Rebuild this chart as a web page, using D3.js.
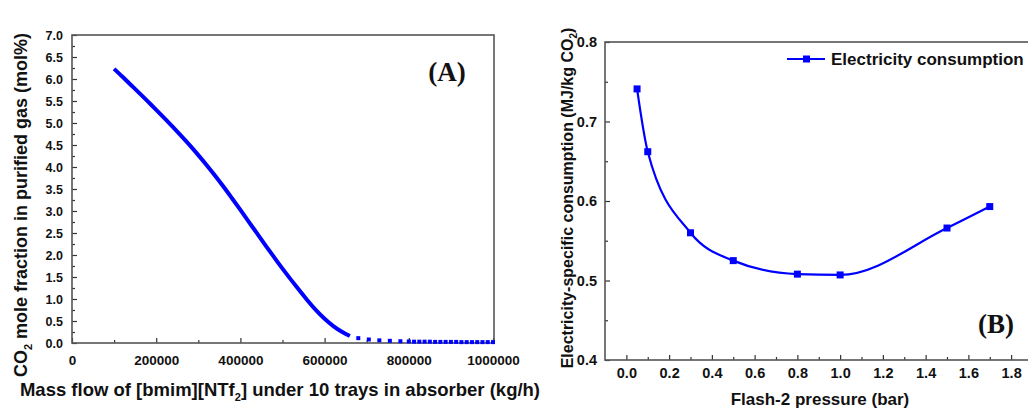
<!DOCTYPE html>
<html>
<head>
<meta charset="utf-8">
<script src="https://cdn.jsdelivr.net/npm/d3@7"></script>
<style>
  body { margin: 0; background: #fff; }
  text { font-family: Arial, "Liberation Sans", sans-serif; font-weight: bold; fill: #111; }
  .tag { font-family: "Liberation Serif", "Times New Roman", serif; font-weight: bold; }
  .domain { display: none; }
  .tick line { stroke: #333; stroke-width: 1.2; }
</style>
</head>
<body>
<div id="container"></div>
<script>
/* DATA */
// (A) CO2 in purified gas vs IL mass flow
const massFlow = [100000, 120000, 140000, 160000, 180000, 200000, 220000, 240000, 260000, 280000,
  300000, 320000, 340000, 360000, 380000, 400000, 420000, 440000, 460000, 480000,
  500000, 520000, 540000, 560000, 580000, 600000, 620000, 640000, 660000,
  680000, 705000, 730000, 755000, 780000, 800000, 812500, 825000, 837500, 850000,
  862500, 875000, 887500, 900000, 912500, 925000, 937500, 950000, 962500, 975000, 987500, 1000000];
const co2Frac = [6.23, 6.05, 5.865, 5.68, 5.49, 5.30, 5.105, 4.905, 4.70, 4.49,
  4.27, 4.04, 3.80, 3.55, 3.29, 3.025, 2.755, 2.485, 2.215, 1.95,
  1.69, 1.44, 1.20, 0.96, 0.74, 0.55, 0.39, 0.26, 0.16,
  0.11, 0.08, 0.06, 0.05, 0.04, 0.035, 0.03, 0.03, 0.03, 0.03,
  0.025, 0.025, 0.025, 0.025, 0.025, 0.02, 0.02, 0.02, 0.02, 0.02, 0.02, 0.02];
const solidUntil = 660000; // beyond this the series shows as separate squares

// (B) electricity consumption vs flash-2 pressure
const flashP = [0.05, 0.1, 0.3, 0.5, 0.8, 1.0, 1.5, 1.7];
const elecCons = [0.741, 0.662, 0.560, 0.525, 0.508, 0.507, 0.566, 0.593];
const seriesB = "Electricity consumption";

const ticksAx = [0, 200000, 400000, 600000, 800000, 1000000];
const ticksAy = [0, 0.5, 1, 1.5, 2, 2.5, 3, 3.5, 4, 4.5, 5, 5.5, 6, 6.5, 7];
const ticksBx = [0, 0.2, 0.4, 0.6, 0.8, 1.0, 1.2, 1.4, 1.6, 1.8];
const ticksBy = [0.4, 0.5, 0.6, 0.7, 0.8];

/* CANVAS */
const width = 1028, height = 410;
const svg = d3.select("#container").append("svg")
  .attr("width", width).attr("height", height);

const blue = "#0000ff";

/* ---------- PANEL A ---------- */
const xA = d3.scaleLinear().domain([0, 1000000]).range([72, 493]);
const yA = d3.scaleLinear().domain([0, 7]).range([343, 35]);

// minor ticks
svg.append("g").attr("transform", `translate(0,${yA(0)})`)
  .call(d3.axisBottom(xA).tickValues(d3.range(100000, 1000000, 200000)).tickSizeInner(-3).tickSizeOuter(0).tickFormat(""));
svg.append("g").attr("transform", `translate(${xA(0)},0)`)
  .call(d3.axisLeft(yA).tickValues(d3.range(0.25, 7, 0.5)).tickSizeInner(-3).tickSizeOuter(0).tickFormat(""));
// major ticks
svg.append("g").attr("transform", `translate(0,${yA(0)})`)
  .call(d3.axisBottom(xA).tickValues(ticksAx).tickSizeInner(-5).tickSizeOuter(0).tickPadding(12).tickFormat(d3.format("d")))
  .selectAll("text").style("font-size", "13.5px");
svg.append("g").attr("transform", `translate(${xA(0)},0)`)
  .call(d3.axisLeft(yA).tickValues(ticksAy).tickSizeInner(-5).tickSizeOuter(0).tickPadding(9).tickFormat(d3.format(".1f")))
  .selectAll("text").style("font-size", "12.5px");

svg.append("rect")
  .attr("x", xA(0)).attr("y", yA(7))
  .attr("width", xA(1000000) - xA(0) + 1).attr("height", yA(0) - yA(7))
  .attr("fill", "none").attr("stroke", "#555").attr("stroke-width", 1.6);

const pointsA = massFlow.map((m, i) => ({ m, c: co2Frac[i] }));
svg.append("path")
  .datum(pointsA.filter(d => d.m <= solidUntil))
  .attr("fill", "none").attr("stroke", blue).attr("stroke-width", 4)
  .attr("d", d3.line().x(d => xA(d.m)).y(d => yA(d.c)).curve(d3.curveMonotoneX));
svg.append("g").selectAll("rect")
  .data(pointsA.filter(d => d.m > solidUntil))
  .join("rect")
  .attr("x", d => xA(d.m) - 2).attr("y", d => yA(d.c) - 2)
  .attr("width", 4).attr("height", 4).attr("fill", blue);

svg.append("text").attr("class", "tag")
  .attr("x", 447).attr("y", 81).attr("text-anchor", "middle")
  .style("font-size", "27px").text("(A)");

// axis titles A
const tA = svg.append("text")
  .attr("transform", `translate(27,205) rotate(-90)`)
  .attr("text-anchor", "middle").style("font-size", "18px");
tA.append("tspan").text("CO");
tA.append("tspan").attr("dy", 5).style("font-size", "11px").text("2");
tA.append("tspan").attr("dy", -5).text(" mole fraction in purified gas (mol%)");

const xtA = svg.append("text")
  .attr("x", 280).attr("y", 396).attr("text-anchor", "middle").style("font-size", "18.5px");
xtA.append("tspan").text("Mass flow of [bmim][NTf");
xtA.append("tspan").attr("dy", 5).style("font-size", "11px").text("2");
xtA.append("tspan").attr("dy", -5).text("] under 10 trays in absorber (kg/h)");

/* ---------- PANEL B ---------- */
const xB = d3.scaleLinear().domain([-0.1, 1.9]).range([605, 1032.5]);
const yB = d3.scaleLinear().domain([0.4, 0.8]).range([360, 42]);

svg.append("g").attr("transform", `translate(0,${yB(0.4)})`)
  .call(d3.axisBottom(xB).tickValues(d3.range(0.1, 1.9, 0.2)).tickSizeInner(-3).tickSizeOuter(0).tickFormat(""));
svg.append("g").attr("transform", `translate(${xB(-0.1)},0)`)
  .call(d3.axisLeft(yB).tickValues(d3.range(0.45, 0.8, 0.1)).tickSizeInner(-3).tickSizeOuter(0).tickFormat(""));
svg.append("g").attr("transform", `translate(0,${yB(0.4)})`)
  .call(d3.axisBottom(xB).tickValues(ticksBx).tickSizeInner(-5).tickSizeOuter(0).tickPadding(8).tickFormat(d3.format(".1f")))
  .selectAll("text").style("font-size", "14.5px");
svg.append("g").attr("transform", `translate(${xB(-0.1)},0)`)
  .call(d3.axisLeft(yB).tickValues(ticksBy).tickSizeInner(-5).tickSizeOuter(0).tickPadding(8).tickFormat(d3.format(".1f")))
  .selectAll("text").style("font-size", "14.5px");

svg.append("rect")
  .attr("x", xB(-0.1)).attr("y", yB(0.8))
  .attr("width", xB(1.9) - xB(-0.1)).attr("height", yB(0.4) - yB(0.8))
  .attr("fill", "none").attr("stroke", "#555").attr("stroke-width", 1.6);

const pointsB = flashP.map((p, i) => ({ p, e: elecCons[i] }));
svg.append("path")
  .datum(pointsB)
  .attr("fill", "none").attr("stroke", blue).attr("stroke-width", 2.2)
  .attr("d", d3.line().x(d => xB(d.p)).y(d => yB(d.e)).curve(d3.curveMonotoneX));
svg.append("g").selectAll("rect")
  .data(pointsB)
  .join("rect")
  .attr("x", d => xB(d.p) - 3.5).attr("y", d => yB(d.e) - 3.5)
  .attr("width", 7).attr("height", 7).attr("fill", blue);

// legend
const lg = svg.append("g").attr("transform", "translate(787,59)");
lg.append("line").attr("x1", 0).attr("x2", 38).attr("stroke", blue).attr("stroke-width", 2.2);
lg.append("rect").attr("x", 16).attr("y", -3.5).attr("width", 7).attr("height", 7).attr("fill", blue);
lg.append("text").attr("x", 44).attr("y", 6).style("font-size", "17px").text(seriesB);

svg.append("text").attr("class", "tag")
  .attr("x", 996).attr("y", 333).attr("text-anchor", "middle")
  .style("font-size", "27px").text("(B)");

const tB = svg.append("text")
  .attr("transform", `translate(573,198) rotate(-90)`)
  .attr("text-anchor", "middle").style("font-size", "16px");
tB.append("tspan").text("Electricity-specific consumption (MJ/kg CO");
tB.append("tspan").attr("dy", 4).style("font-size", "10px").text("2");
tB.append("tspan").attr("dy", -4).text(")");

svg.append("text")
  .attr("x", 820).attr("y", 405).attr("text-anchor", "middle").style("font-size", "17px")
  .text("Flash-2 pressure (bar)");
</script>
</body>
</html>
